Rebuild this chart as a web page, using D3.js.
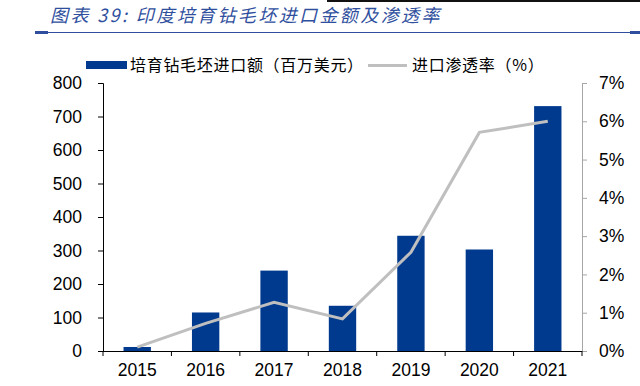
<!DOCTYPE html>
<html lang="zh">
<head>
<meta charset="UTF-8">
<title>印度培育钻毛坯进口金额及渗透率</title>
<script src="https://d3js.org/d3.v7.min.js"></script>
<style>
  body { margin: 0; background: #fff; }
  text { font-family: "Liberation Sans", Arial, sans-serif; }
  .cjk { font-family: "Noto Sans CJK SC", sans-serif; }
</style>
</head>
<body>
<div id="chart"></div>
<script>
// data
const years = ["2015", "2016", "2017", "2018", "2019", "2020", "2021"];
const importValue = [12, 115, 240, 135, 344, 303, 731];     // 百万美元
const penetration = [0.1, 0.72, 1.27, 0.84, 2.58, 5.71, 6.0]; // %
const leftTicks = [0, 100, 200, 300, 400, 500, 600, 700, 800];
const rightTicks = [0, 1, 2, 3, 4, 5, 6, 7];

const W = 640, H = 386;
const plotL = 103, plotR = 582, plotT = 83, plotB = 351;
const blue = "#003a8f", grey = "#bfbfbf";

const svg = d3.select("#chart").append("svg")
  .attr("width", W).attr("height", H);

// title + rules
svg.append("rect").attr("x", 327).attr("y", 0).attr("width", 313).attr("height", 2).attr("fill", "#111");
svg.append("text").attr("class", "cjk")
  .attr("x", 50).attr("y", 22)
  .attr("fill", "#2f4f9e")
  .style("font-size", "18px").style("font-style", "italic")
  .style("letter-spacing", "2.4px")
  .text("图表 39:  印度培育钻毛坯进口金额及渗透率");
svg.append("line").attr("x1", 35).attr("x2", 640).attr("y1", 32.5).attr("y2", 32.5)
  .attr("stroke", "#2f4f9e").attr("stroke-width", 1);
svg.append("rect").attr("x", 35).attr("y", 31).attr("width", 13).attr("height", 3).attr("fill", "#2f4f9e");
svg.append("rect").attr("x", 630).attr("y", 31).attr("width", 10).attr("height", 3).attr("fill", "#2f4f9e");

// scales
const x = d3.scaleBand().domain(years).range([plotL, plotR]).paddingInner(0).paddingOuter(0);
const yL = d3.scaleLinear().domain([0, 800]).range([plotB, plotT]);
const yR = d3.scaleLinear().domain([0, 7]).range([plotB, plotT]);

// bars
const bw = x.bandwidth() * 0.4;
svg.append("g").selectAll("rect")
  .data(years)
  .join("rect")
  .attr("x", d => x(d) + x.bandwidth() / 2 - bw / 2)
  .attr("y", (d, i) => yL(importValue[i]))
  .attr("width", bw)
  .attr("height", (d, i) => plotB - yL(importValue[i]))
  .attr("fill", blue);

// line
const line = d3.line()
  .x((d, i) => x(years[i]) + x.bandwidth() / 2)
  .y(d => yR(d));
svg.append("path").datum(penetration)
  .attr("d", line)
  .attr("fill", "none")
  .attr("stroke", grey)
  .attr("stroke-width", 3);

// left axis
const gL = svg.append("g").attr("transform", "translate(" + plotL + ",0)")
  .call(d3.axisLeft(yL).tickValues(leftTicks).tickSize(5).tickPadding(16));
gL.select(".domain").attr("stroke", "#000");
gL.selectAll("text").style("font-size", "17.5px").attr("fill", "#000")
  .style("font-family", "Liberation Sans, Arial, sans-serif");

// right axis
const gR = svg.append("g").attr("transform", "translate(" + plotR + ",0)")
  .call(d3.axisRight(yR).tickValues(rightTicks).tickSize(5).tickFormat(d => d + "%").tickPadding(12));
gR.select(".domain").attr("stroke", "#a6a6a6");
gR.selectAll(".tick line").attr("stroke", "#a6a6a6");
gR.selectAll("text").style("font-size", "17.5px").attr("fill", "#000")
  .style("font-family", "Liberation Sans, Arial, sans-serif");

// x axis
const gX = svg.append("g").attr("transform", "translate(0," + plotB + ")")
  .call(d3.axisBottom(x).tickSize(0).tickPadding(13));
gX.select(".domain").attr("stroke", "#000").attr("d", "M" + plotL + ",0.5H" + plotR);
gX.selectAll("text").style("font-size", "17.5px").attr("fill", "#000")
  .style("font-family", "Liberation Sans, Arial, sans-serif");
gX.append("g").selectAll("line")
  .data(d3.range(years.length + 1))
  .join("line")
  .attr("x1", d => plotL + d * x.step()).attr("x2", d => plotL + d * x.step())
  .attr("y1", 0).attr("y2", 5)
  .attr("stroke", "#000");

// legend
const lg = svg.append("g");
lg.append("rect").attr("x", 86).attr("y", 61).attr("width", 41).attr("height", 8).attr("fill", blue);
lg.append("text").attr("class", "cjk").attr("x", 130).attr("y", 71)
  .style("font-size", "16px").style("letter-spacing", "0.7px").attr("fill", "#000")
  .text("培育钻毛坯进口额（百万美元）");
lg.append("line").attr("x1", 368).attr("x2", 407).attr("y1", 65.5).attr("y2", 65.5)
  .attr("stroke", grey).attr("stroke-width", 3);
lg.append("text").attr("class", "cjk").attr("x", 412).attr("y", 71)
  .style("font-size", "16px").style("letter-spacing", "0.7px").attr("fill", "#000")
  .text("进口渗透率（%）");
</script>
</body>
</html>
